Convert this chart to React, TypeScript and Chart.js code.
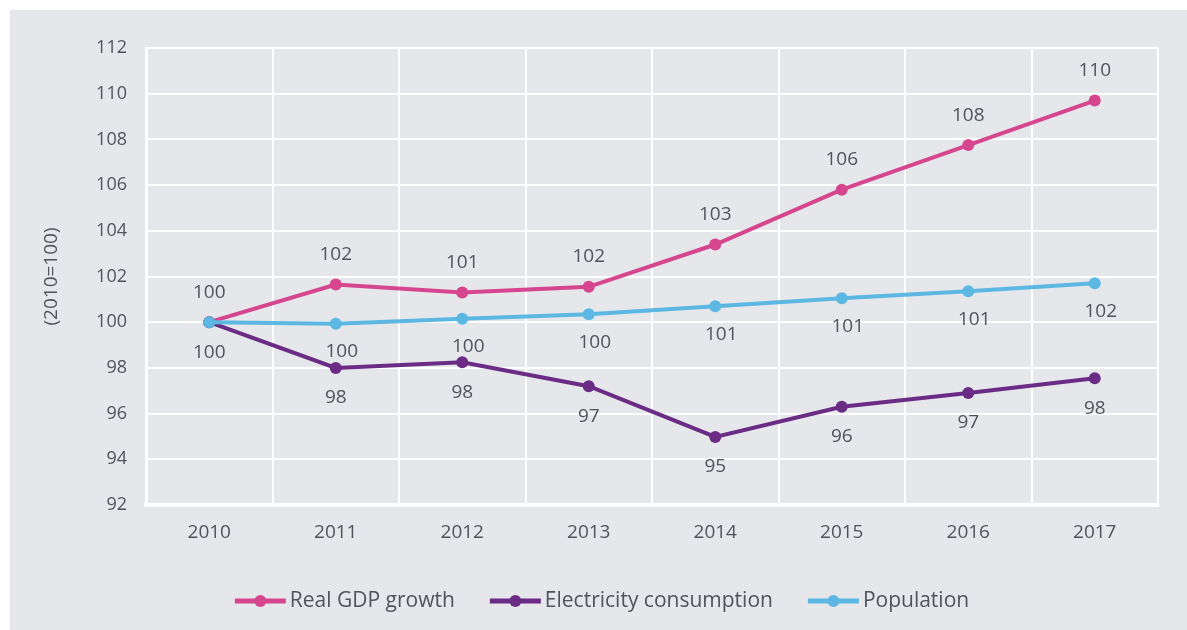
import React, { useEffect, useRef } from "react";
import { Chart, registerables } from "chart.js";

Chart.register(...registerables);

const years = ["2010", "2011", "2012", "2013", "2014", "2015", "2016", "2017"];
const gdpValues = [100, 101.65, 101.3, 101.55, 103.4, 105.8, 107.75, 109.7];
const elecValues = [100, 98.0, 98.25, 97.2, 94.98, 96.3, 96.9, 97.55];
const popValues = [100, 99.93, 100.15, 100.35, 100.7, 101.05, 101.35, 101.7];
const gdpLabels = ["100", "102", "101", "102", "103", "106", "108", "110"];
const elecLabels = ["100", "98", "98", "97", "95", "96", "97", "98"];
const popLabels = [null, "100", "100", "100", "101", "101", "101", "102"];
const seriesNames = ["Real GDP growth", "Electricity consumption", "Population"];
const yTicks = [92, 94, 96, 98, 100, 102, 104, 106, 108, 110, 112];

const COLORS = ["#d5468e", "#6a2c84", "#5cb8e2"];
const TEXT = "#50545a";
const FONT = "'Open Sans', 'Noto Sans', sans-serif";

const labelPlugin = {
  id: "pointLabels",
  afterDatasetsDraw(chart: any) {
    const ctx = chart.ctx;
    const sets = [
      { labels: gdpLabels, dy: -30, dx: 0 },
      { labels: elecLabels, dy: 30, dx: 0 },
      { labels: popLabels, dy: 28, dx: 6 },
    ];
    ctx.save();
    ctx.font = `19px ${FONT}`;
    ctx.fillStyle = TEXT;
    ctx.textAlign = "center";
    ctx.textBaseline = "middle";
    sets.forEach((s, i) => {
      const meta = chart.getDatasetMeta(i);
      meta.data.forEach((pt: any, j: number) => {
        const t = s.labels[j];
        if (t == null) return;
        ctx.fillText(t, pt.x + s.dx, pt.y + s.dy);
      });
    });
    ctx.restore();
  },
};

const legendPlugin = {
  id: "customLegend",
  afterDraw(chart: any) {
    const ctx = chart.ctx;
    ctx.save();
    ctx.font = `21px ${FONT}`;
    const lineW = 51;
    const gapText = 4;
    const gapItem = 35;
    const widths = seriesNames.map((n) => lineW + gapText + ctx.measureText(n).width);
    const total = widths.reduce((a, b) => a + b, 0) + gapItem * (seriesNames.length - 1);
    let x = 592 - total / 2;
    const y = 591;
    seriesNames.forEach((n, i) => {
      ctx.strokeStyle = COLORS[i];
      ctx.lineWidth = 5;
      ctx.beginPath();
      ctx.moveTo(x, y);
      ctx.lineTo(x + lineW, y);
      ctx.stroke();
      ctx.fillStyle = COLORS[i];
      ctx.beginPath();
      ctx.arc(x + lineW / 2, y, 6, 0, Math.PI * 2);
      ctx.fill();
      ctx.fillStyle = TEXT;
      ctx.textAlign = "left";
      ctx.textBaseline = "middle";
      ctx.fillText(n, x + lineW + gapText, y);
      x += widths[i] + gapItem;
    });
    ctx.restore();
  },
};

export default function App() {
  const ref = useRef<HTMLCanvasElement>(null);

  useEffect(() => {
    document.body.style.margin = "0";
    const datasets = [gdpValues, elecValues, popValues].map((vals, i) => ({
      label: seriesNames[i],
      data: vals,
      borderColor: COLORS[i],
      backgroundColor: COLORS[i],
      borderWidth: 4,
      pointRadius: 6,
      pointHoverRadius: 6,
      pointBorderWidth: 0,
      tension: 0,
      order: 3 - i,
    }));
    const chart = new Chart(ref.current as HTMLCanvasElement, {
      type: "line",
      data: { labels: years, datasets },
      options: {
        animation: false,
        responsive: false,
        layout: { padding: { top: 38, right: 29, left: 0, bottom: 0 } },
        plugins: { legend: { display: false }, tooltip: { enabled: false } },
        scales: {
          x: {
            offset: true,
            grid: { color: "#ffffff", lineWidth: 2, drawTicks: false, offset: true },
            border: { color: "#ffffff", width: 4 },
            ticks: { color: TEXT, font: { family: FONT, size: 19 }, padding: 16 },
            afterFit(scale: any) {
              scale.height = 125;
            },
          },
          y: {
            min: 92,
            max: 112,
            afterBuildTicks(scale: any) {
              scale.ticks = yTicks.map((v) => ({ value: v }));
            },
            grid: { color: "#ffffff", lineWidth: 2, drawTicks: false },
            border: { color: "#ffffff", width: 3 },
            ticks: { color: TEXT, font: { family: FONT, size: 18 }, padding: 19 },
            title: {
              display: true,
              text: "(2010=100)",
              color: TEXT,
              font: { family: FONT, size: 19 },
              padding: { top: 30, bottom: 0 },
            },
            afterFit(scale: any) {
              scale.width = 136;
            },
          },
        },
      },
      plugins: [labelPlugin, legendPlugin],
    });
    return () => chart.destroy();
  }, []);

  return (
    <div style={{ position: "relative", width: 1187, height: 630, background: "#ffffff", overflow: "hidden" }}>
      <div style={{ position: "absolute", left: 10, top: 10, width: 1177, height: 620, background: "#e6e7eb" }}>
        <canvas ref={ref} width={1177} height={620} style={{ display: "block", width: 1177, height: 620 }} />
      </div>
    </div>
  );
}
